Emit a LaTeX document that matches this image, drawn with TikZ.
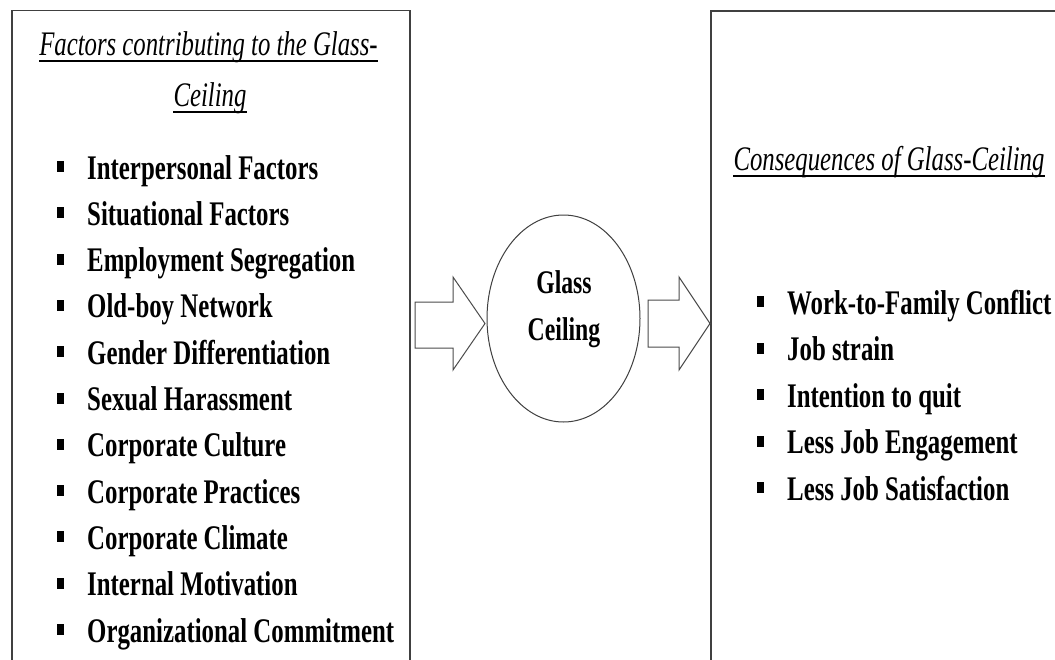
\documentclass[tikz,border=0pt]{standalone}
\usepackage{fontspec}
\usetikzlibrary{shapes.geometric,calc}
% condensed Times-like face used for every label
\newfontfamily\dfont[FakeStretch=0.72]{Liberation Serif}
\begin{document}
\begin{tikzpicture}[x=1pt,y=-1pt,
  frame/.style={draw=black!75, line width=1.1pt},
  blockarrow/.style={draw=black!70, line width=1pt, fill=white, line join=miter},
  heading/.style={anchor=base, inner sep=0, font=\dfont\itshape\fontsize{34.4}{40}\selectfont},
  item/.style={anchor=base west, inner sep=0, font=\dfont\bfseries\fontsize{34.5}{40}\selectfont},
  centre/.style={anchor=base, inner sep=0, font=\dfont\bfseries\fontsize{33}{40}\selectfont},
  bulletmark/.style={fill=black},
  rulebelow/.style={draw=black, line width=1.1pt}]
\useasboundingbox (0,0) rectangle (1055,659);
\clip (0,0) rectangle (1055,659);
\fill[white] (0,0) rectangle (1055,659);

% the two panels, running off the lower (and right) edge
\draw[frame] (12,10.5) rectangle (410,720);
\draw[frame] (711,11) rectangle (1120,720);

% panel headings, underlined
\node[heading] (t1) at (208.5,55) {Factors contributing to the Glass-};
\node[heading] (t2) at (210,106) {Ceiling};
\node[heading] (t3) at (889,170) {Consequences of Glass-Ceiling};
\foreach \h in {t1,t2,t3}
  \draw[rulebelow] ($(\h.base west)+(0,6)$) -- ($(\h.base east)+(0,6)$);

% contributing factors
\foreach \t [count=\i from 0] in {Interpersonal Factors, Situational Factors,
    Employment Segregation, Old-boy Network, Gender Differentiation,
    Sexual Harassment, Corporate Culture, Corporate Practices,
    Corporate Climate, Internal Motivation, Organizational Commitment} {
  \node[item] (L\i) at (87,{179+46.3*\i}) {\t};
  \fill[bulletmark] ($(L\i.base west)+(-30,-7)$) rectangle ++(7,-11);
}

% consequences
\foreach \t [count=\i from 0] in {Work-to-Family Conflict, Job strain,
    Intention to quit, Less Job Engagement, Less Job Satisfaction} {
  \node[item] (R\i) at (787,{314+46.5*\i}) {\t};
  \fill[bulletmark] ($(R\i.base west)+(-30,-7)$) rectangle ++(7,-11);
}

% central ellipse
\node[ellipse, draw=black!75, line width=1pt, minimum width=153pt,
      minimum height=207pt, inner sep=0] (gc) at (563.5,318.5) {};
\node[centre] (gc1) at (564,293) {Glass};
\node[centre] (gc2) at (564,340) {Ceiling};

% block arrows between the panels and the ellipse
\draw[blockarrow] (415,302) -- (453,302) -- (453,277) -- (485,323.5)
  -- (453,370) -- (453,348) -- (415,348) -- cycle;
\draw[blockarrow] (648,300) -- (679,300) -- (679,277) -- (710,323.5)
  -- (679,370) -- (679,347) -- (648,347) -- cycle;
\end{tikzpicture}
\end{document}
